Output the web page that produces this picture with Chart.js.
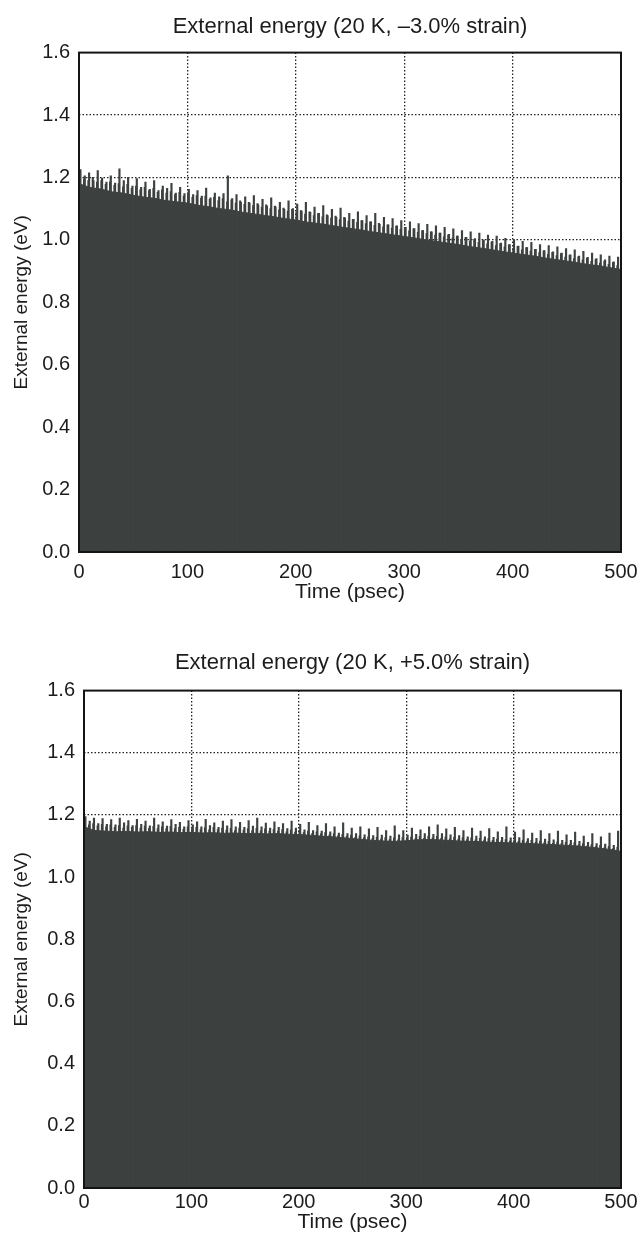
<!DOCTYPE html>
<html>
<head>
<meta charset="utf-8">
<title>External energy</title>
<script src="https://cdn.jsdelivr.net/npm/chart.js@4.4.1/dist/chart.umd.min.js"></script>
<style>
    body { margin: 0; background: #fff; }
    .panel { position: absolute; left: 0; }
    #panelTop { top: 0; }
    #panelBottom { top: 637px; }
</style>
</head>
<body>
<div class="panel" id="panelTop"><canvas id="chartTop" width="643" height="620"></canvas></div>
<div class="panel" id="panelBottom"><canvas id="chartBottom" width="643" height="598"></canvas></div>

<script>
// time grid for the smooth lower body of the trace (psec)
const bodyTimes = [0, 10, 20, 30, 40, 50, 60, 70, 80, 90, 100, 110, 120, 130, 140, 150, 160, 170, 180, 190,
    200, 210, 220, 230, 240, 250, 260, 270, 280, 290, 300, 310, 320, 330, 340, 350, 360, 370, 380, 390,
    400, 410, 420, 430, 440, 450, 460, 470, 480, 490, 500];

// -3.0% strain
const topEnergy = [1.18, 1.168, 1.163, 1.154, 1.15, 1.143, 1.137, 1.133, 1.126, 1.122,
    1.118, 1.111, 1.106, 1.1, 1.096, 1.089, 1.084, 1.079, 1.074, 1.068,
    1.064, 1.057, 1.053, 1.048, 1.042, 1.037, 1.032, 1.026, 1.021, 1.016,
    1.011, 1.006, 1.0, 0.995, 0.99, 0.985, 0.979, 0.974, 0.969, 0.963,
    0.958, 0.953, 0.948, 0.942, 0.937, 0.932, 0.927, 0.921, 0.917, 0.911, 0.905];

// +5.0% strain
const bottomEnergy = [1.162, 1.15, 1.148, 1.146, 1.147, 1.145, 1.146, 1.144, 1.145, 1.143,
    1.144, 1.142, 1.143, 1.141, 1.142, 1.14, 1.141, 1.139, 1.14, 1.138,
    1.137, 1.135, 1.132, 1.13, 1.127, 1.124, 1.121, 1.118, 1.116, 1.115,
    1.117, 1.12, 1.121, 1.12, 1.118, 1.116, 1.115, 1.114, 1.112, 1.111,
    1.11, 1.109, 1.107, 1.106, 1.104, 1.102, 1.1, 1.097, 1.093, 1.089, 1.083];

// large fluctuation peaks sticking out of the body
const spikeTimes = [2, 6, 10, 14, 18, 22, 26, 30, 34, 38, 42, 46, 50, 54, 58, 62, 66, 70, 74, 78,
    82, 86, 90, 94, 98, 102, 106, 110, 114, 118, 122, 126, 130, 134, 138, 142, 146, 150, 154, 158,
    162, 166, 170, 174, 178, 182, 186, 190, 194, 198, 202, 206, 210, 214, 218, 222, 226, 230, 234, 238,
    242, 246, 250, 254, 258, 262, 266, 270, 274, 278, 282, 286, 290, 294, 298, 302, 306, 310, 314, 318,
    322, 326, 330, 334, 338, 342, 346, 350, 354, 358, 362, 366, 370, 374, 378, 382, 386, 390, 394, 398,
    402, 406, 410, 414, 418, 422, 426, 430, 434, 438, 442, 446, 450, 454, 458, 462, 466, 470, 474, 478,
    482, 486, 490, 494, 498];

const topSpikes = [1.225, 1.205, 1.215, 1.19, 1.222, 1.198, 1.185, 1.205, 1.182, 1.228,
    1.19, 1.2, 1.172, 1.196, 1.168, 1.185, 1.162, 1.19, 1.158, 1.172,
    1.165, 1.181, 1.15, 1.168, 1.148, 1.162, 1.145, 1.158, 1.14, 1.166,
    1.135, 1.15, 1.138, 1.148, 1.205, 1.132, 1.145, 1.12, 1.138, 1.118,
    1.142, 1.112, 1.13, 1.108, 1.135, 1.105, 1.12, 1.098, 1.125, 1.1,
    1.115, 1.092, 1.12, 1.088, 1.105, 1.085, 1.11, 1.078, 1.098, 1.072,
    1.102, 1.07, 1.085, 1.066, 1.09, 1.062, 1.078, 1.058, 1.085, 1.05,
    1.072, 1.048, 1.068, 1.045, 1.062, 1.04, 1.058, 1.036, 1.052, 1.03,
    1.05, 1.026, 1.045, 1.022, 1.04, 1.018, 1.035, 1.012, 1.03, 1.008,
    1.026, 1.004, 1.022, 1.0, 1.015, 0.995, 1.012, 0.99, 1.005, 0.985,
    1.0, 0.98, 0.995, 0.975, 0.992, 0.97, 0.985, 0.966, 0.982, 0.962,
    0.978, 0.958, 0.972, 0.952, 0.968, 0.948, 0.963, 0.944, 0.958, 0.94,
    0.952, 0.936, 0.948, 0.93, 0.945];

const bottomSpikes = [1.195, 1.18, 1.19, 1.172, 1.188, 1.17, 1.185, 1.168, 1.19, 1.175,
    1.182, 1.166, 1.186, 1.17, 1.18, 1.165, 1.19, 1.168, 1.178, 1.164,
    1.185, 1.17, 1.176, 1.162, 1.182, 1.168, 1.178, 1.162, 1.186, 1.166,
    1.175, 1.16, 1.18, 1.165, 1.185, 1.162, 1.176, 1.16, 1.182, 1.164,
    1.19, 1.162, 1.174, 1.158, 1.178, 1.16, 1.172, 1.156, 1.18, 1.158,
    1.17, 1.152, 1.176, 1.15, 1.166, 1.148, 1.172, 1.146, 1.162, 1.142,
    1.175, 1.14, 1.158, 1.14, 1.162, 1.136, 1.155, 1.134, 1.16, 1.135,
    1.15, 1.132, 1.165, 1.136, 1.15, 1.135, 1.158, 1.138, 1.152, 1.14,
    1.162, 1.138, 1.168, 1.14, 1.155, 1.136, 1.16, 1.134, 1.15, 1.13,
    1.158, 1.132, 1.148, 1.13, 1.156, 1.128, 1.146, 1.128, 1.162, 1.126,
    1.145, 1.127, 1.152, 1.124, 1.142, 1.125, 1.15, 1.122, 1.14, 1.12,
    1.148, 1.118, 1.136, 1.118, 1.145, 1.115, 1.132, 1.112, 1.14, 1.108,
    1.13, 1.106, 1.142, 1.102, 1.148];

// smaller fluctuations in between
const minorTimes = [0, 4, 8, 12, 16, 20, 24, 28, 32, 36, 40, 44, 48, 52, 56, 60, 64, 68, 72, 76,
    80, 84, 88, 92, 96, 100, 104, 108, 112, 116, 120, 124, 128, 132, 136, 140, 144, 148, 152, 156,
    160, 164, 168, 172, 176, 180, 184, 188, 192, 196, 200, 204, 208, 212, 216, 220, 224, 228, 232, 236,
    240, 244, 248, 252, 256, 260, 264, 268, 272, 276, 280, 284, 288, 292, 296, 300, 304, 308, 312, 316,
    320, 324, 328, 332, 336, 340, 344, 348, 352, 356, 360, 364, 368, 372, 376, 380, 384, 388, 392, 396,
    400, 404, 408, 412, 416, 420, 424, 428, 432, 436, 440, 444, 448, 452, 456, 460, 464, 468, 472, 476,
    480, 484, 488, 492, 496];

const topMinor = [1.2, 1.195, 1.19, 1.2, 1.185, 1.19, 1.178, 1.186, 1.175, 1.18,
    1.17, 1.178, 1.165, 1.172, 1.16, 1.168, 1.158, 1.165, 1.152, 1.16,
    1.15, 1.155, 1.145, 1.152, 1.14, 1.148, 1.136, 1.142, 1.134, 1.14,
    1.13, 1.136, 1.126, 1.132, 1.122, 1.128, 1.118, 1.125, 1.114, 1.12,
    1.11, 1.116, 1.105, 1.112, 1.1, 1.108, 1.096, 1.102, 1.092, 1.098,
    1.088, 1.094, 1.083, 1.09, 1.078, 1.085, 1.074, 1.08, 1.07, 1.076,
    1.065, 1.072, 1.06, 1.066, 1.056, 1.062, 1.052, 1.058, 1.047, 1.053,
    1.042, 1.048, 1.038, 1.044, 1.034, 1.04, 1.029, 1.035, 1.024, 1.03,
    1.02, 1.026, 1.015, 1.022, 1.01, 1.016, 1.006, 1.012, 1.001, 1.008,
    0.996, 1.002, 0.992, 0.998, 0.987, 0.993, 0.982, 0.988, 0.978, 0.984,
    0.973, 0.979, 0.968, 0.975, 0.964, 0.97, 0.959, 0.965, 0.954, 0.96,
    0.95, 0.956, 0.945, 0.951, 0.94, 0.946, 0.936, 0.942, 0.931, 0.937,
    0.926, 0.932, 0.922, 0.928, 0.918];

const bottomMinor = [1.175, 1.168, 1.172, 1.165, 1.17, 1.162, 1.168, 1.16, 1.166, 1.158,
    1.165, 1.16, 1.166, 1.158, 1.164, 1.157, 1.163, 1.156, 1.162, 1.155,
    1.163, 1.156, 1.16, 1.154, 1.162, 1.155, 1.16, 1.153, 1.159, 1.152,
    1.16, 1.153, 1.158, 1.151, 1.157, 1.15, 1.158, 1.151, 1.156, 1.15,
    1.157, 1.149, 1.155, 1.148, 1.154, 1.148, 1.153, 1.146, 1.152, 1.145,
    1.15, 1.143, 1.148, 1.141, 1.146, 1.139, 1.143, 1.136, 1.14, 1.133,
    1.138, 1.131, 1.135, 1.128, 1.133, 1.126, 1.13, 1.124, 1.128, 1.122,
    1.127, 1.121, 1.126, 1.12, 1.127, 1.122, 1.129, 1.124, 1.131, 1.125,
    1.132, 1.126, 1.131, 1.125, 1.13, 1.123, 1.128, 1.122, 1.127, 1.121,
    1.126, 1.12, 1.125, 1.119, 1.124, 1.118, 1.122, 1.117, 1.121, 1.116,
    1.12, 1.115, 1.119, 1.114, 1.118, 1.112, 1.116, 1.111, 1.115, 1.109,
    1.113, 1.108, 1.112, 1.106, 1.11, 1.104, 1.108, 1.101, 1.105, 1.098,
    1.102, 1.095, 1.099, 1.092, 1.096];

const FILL = '#3d413f';
const INK = '#1c1c1c';

Chart.defaults.font.family = "'Liberation Sans', Arial, Helvetica, sans-serif";
Chart.defaults.color = INK;

// solid box round the plot area
const framePlugin = {
    id: 'frame',
    afterDatasetsDraw(chart) {
        const { ctx, chartArea: a } = chart;
        ctx.save();
        ctx.strokeStyle = '#141414';
        ctx.lineWidth = 2;
        ctx.strokeRect(a.left, a.top, a.right - a.left, a.bottom - a.top);
        ctx.restore();
    }
};

function pairs(xs, ys) {
    return xs.map((x, i) => ({ x: x, y: ys[i] }));
}

function spikeSet(times, values) {
    return {
        type: 'bar',
        data: pairs(times, values),
        backgroundColor: FILL,
        barThickness: 1.5,
        borderWidth: 0
    };
}

function drawEnergyChart(canvasId, titleText, energy, spikes, minor, lay) {
    const ctx = document.getElementById(canvasId);
    return new Chart(ctx, {
        type: 'line',
        data: {
            datasets: [
                spikeSet(spikeTimes, spikes),
                spikeSet(minorTimes, minor),
                {
                    type: 'line',
                    data: pairs(bodyTimes, energy),
                    borderColor: FILL,
                    backgroundColor: FILL,
                    borderWidth: 1,
                    pointRadius: 0,
                    tension: 0,
                    fill: 'origin'
                }
            ]
        },
        options: {
            responsive: false,
            devicePixelRatio: 1,
            animation: false,
            layout: { padding: { left: 0, right: 22, top: 0, bottom: 0 } },
            plugins: {
                legend: { display: false },
                tooltip: { enabled: false },
                title: {
                    display: true,
                    fullSize: false,
                    text: titleText,
                    color: INK,
                    font: { size: 22, weight: 'normal' },
                    padding: lay.titlePad
                }
            },
            scales: {
                x: {
                    type: 'linear',
                    min: 0,
                    max: 500,
                    offset: false,
                    ticks: { stepSize: 100, padding: lay.xTickPad, font: { size: 20 }, maxRotation: 0 },
                    grid: {
                        offset: false,
                        drawTicks: false,
                        lineWidth: 1.3,
                        color: (c) => (c.tick && (c.tick.value === 0 || c.tick.value === 500)) ? 'rgba(0,0,0,0)' : '#222'
                    },
                    border: { display: false, dash: [1.5, 2] },
                    title: {
                        display: true,
                        text: 'Time (psec)',
                        font: { size: 21 },
                        padding: { top: 0, bottom: lay.xTitlePad }
                    },
                    afterFit(scale) {
                        scale.height = lay.xAxisHeight;
                        scale.paddingLeft = 0;
                        scale.paddingRight = 0;
                    }
                },
                y: {
                    min: 0,
                    max: 1.6,
                    ticks: {
                        stepSize: 0.2,
                        padding: 9,
                        font: { size: 20 },
                        callback: (v) => v.toFixed(1)
                    },
                    grid: {
                        drawTicks: false,
                        lineWidth: 1.3,
                        color: (c) => (c.tick && (c.tick.value < 0.01 || c.tick.value > 1.59)) ? 'rgba(0,0,0,0)' : '#222'
                    },
                    border: { display: false, dash: [1.5, 2] },
                    title: {
                        display: true,
                        text: 'External energy (eV)',
                        font: { size: 19 },
                        padding: { top: 10, bottom: 0 }
                    },
                    afterFit(scale) {
                        scale.width = lay.yAxisWidth;
                        scale.paddingTop = 0;
                        scale.paddingBottom = 0;
                    }
                }
            }
        },
        plugins: [framePlugin]
    });
}

document.addEventListener('DOMContentLoaded', () => {
    drawEnergyChart('chartTop', 'External energy (20 K, \u20133.0% strain)', topEnergy, topSpikes, topMinor, {
        titlePad: { top: 13.8, bottom: 12.4 },
        xTickPad: 8,
        xTitlePad: 15,
        xAxisHeight: 68,
        yAxisWidth: 79
    });
    drawEnergyChart('chartBottom', 'External energy (20 K, +5.0% strain)', bottomEnergy, bottomSpikes, bottomMinor, {
        titlePad: { top: 12.8, bottom: 14.4 },
        xTickPad: 2,
        xTitlePad: 0,
        xAxisHeight: 47,
        yAxisWidth: 84
    });
});
</script>
</body>
</html>
